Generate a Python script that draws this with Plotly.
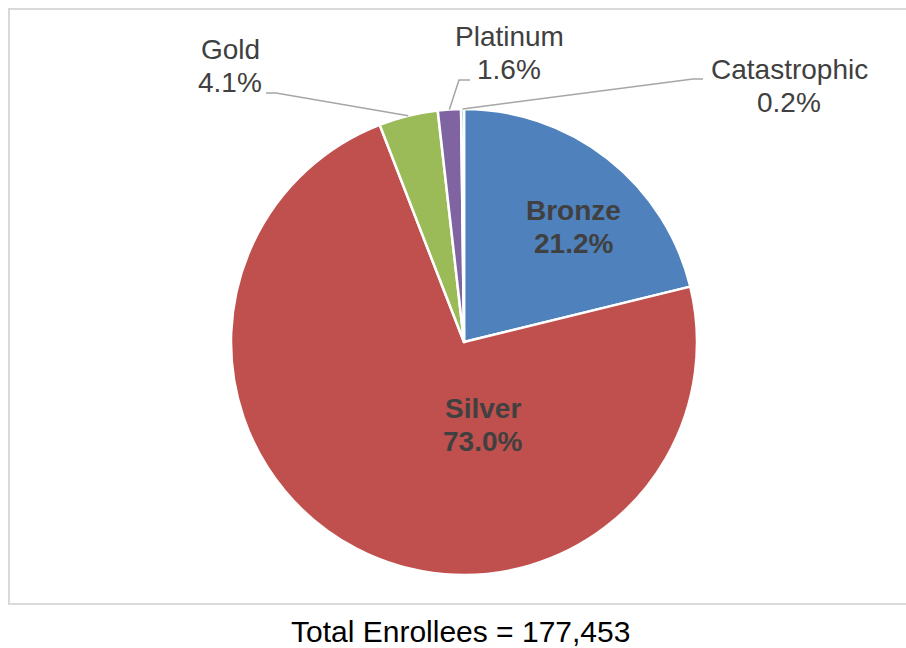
import math
import plotly.graph_objects as go

# ---- data ----
categories = ["Bronze", "Silver", "Gold", "Platinum", "Catastrophic"]
percent_values = [21.2, 73.0, 4.1, 1.6, 0.2]
slice_colors = ["#4F81BD", "#C0504D", "#9BBB59", "#8064A2", "#4BACC6"]
total_enrollees = "177,453"

W, H = 906, 648
CX, CY, R = 464, 342, 233  # pie centre / radius in px


def px(x):
    return x / W


def py(y):
    return 1 - y / H


fig = go.Figure(
    go.Pie(
        labels=categories,
        values=percent_values,
        sort=False,
        direction="clockwise",
        rotation=0,
        marker=dict(colors=slice_colors, line=dict(color="white", width=2.5)),
        textinfo="none",
        hoverinfo="label+percent",
        showlegend=False,
        domain=dict(x=[px(CX - R), px(CX + R)], y=[py(CY + R), py(CY - R)]),
    )
)

FONT = "Liberation Sans, Arial, sans-serif"
label_color = "#404040"

# label placements (text centre positions, px)
label_pos = {
    "Bronze": (573, 227, True),
    "Silver": (483, 425, True),
    "Gold": (230, 66, False),
    "Platinum": (509, 53, False),
    "Catastrophic": (789, 86, False),
}
LINE_GAP = 33
# leader line elbow points (px): [(outer end), (elbow)]
leader_elbows = {
    "Gold": [(266, 93), (276, 93)],
    "Platinum": [(470, 80), (459, 80)],
    "Catastrophic": [(703, 79), (693, 79)],
}

total = sum(percent_values)
cum = 0.0
for cat, val in zip(categories, percent_values):
    mid = (cum + val / 2) / total
    cum += val
    ang = 2 * math.pi * mid
    ex = CX + R * math.sin(ang)
    ey = CY - R * math.cos(ang)
    x, y, inside = label_pos[cat]
    lines = [cat, f"{val:.1f}%"]
    for i, line in enumerate(lines):
        t = f"<b>{line}</b>" if inside else line
        fig.add_annotation(
            x=px(x), y=py(y + (i - 0.5) * LINE_GAP), xref="paper", yref="paper",
            text=t, showarrow=False, align="center",
            xanchor="center", yanchor="middle",
            font=dict(family=FONT, size=28, color=label_color),
        )
    if cat in leader_elbows:
        (ox, oy), (bx, by) = leader_elbows[cat]
        path = f"M {px(ox)} {py(oy)} L {px(bx)} {py(by)} L {px(ex)} {py(ey)}"
        fig.add_shape(
            type="path", path=path, xref="paper", yref="paper",
            line=dict(color="#A6A6A6", width=1.5),
        )

# chart border
fig.add_shape(
    type="rect", xref="paper", yref="paper",
    x0=px(9), x1=px(920), y0=py(604), y1=py(9),
    line=dict(color="#D9D9D9", width=2),
)

fig.add_annotation(
    x=px(460), y=py(631), xref="paper", yref="paper",
    text=f"Total Enrollees = {total_enrollees}", showarrow=False,
    xanchor="center", yanchor="middle",
    font=dict(family=FONT, size=30, color="#000000"),
)

fig.update_layout(
    width=W, height=H,
    margin=dict(l=0, r=0, t=0, b=0),
    paper_bgcolor="white", plot_bgcolor="white",
)

fig.write_html("out.html")
